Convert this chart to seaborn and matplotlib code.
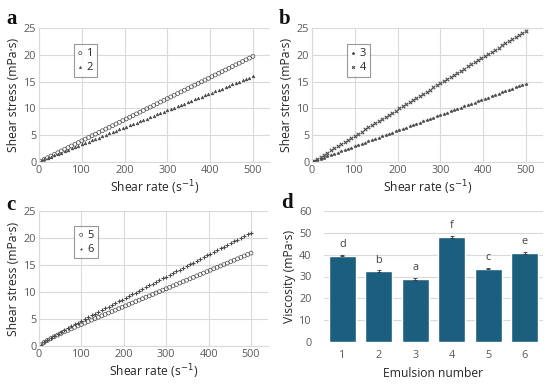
"""Flow curves of six emulsions (a-c) and their viscosity (d)."""

import matplotlib

matplotlib.use("Agg")
import matplotlib.pyplot as plt
import pandas as pd
import seaborn as sns

# shear rate steps (s^-1), shared by all flow curves
SHEAR_RATE = [
    4, 12, 20, 28, 36, 44, 52, 60, 68, 76, 84, 92, 100, 108, 116, 124,
    132, 140, 148, 156, 164, 172, 180, 188, 196, 204, 212, 220, 228, 236,
    244, 252, 260, 268, 276, 284, 292, 300, 308, 316, 324, 332, 340, 348,
    356, 364, 372, 380, 388, 396, 404, 412, 420, 428, 436, 444, 452, 460,
    468, 476, 484, 492, 500,
]

STRESS_1 = [
    0.16, 0.47, 0.79, 1.10, 1.42, 1.73, 2.05, 2.36, 2.68, 2.99, 3.31, 3.62,
    3.94, 4.26, 4.57, 4.89, 5.20, 5.52, 5.83, 6.15, 6.46, 6.78, 7.09, 7.41,
    7.72, 8.04, 8.35, 8.67, 8.98, 9.30, 9.61, 9.93, 10.24, 10.56, 10.87,
    11.19, 11.51, 11.82, 12.14, 12.45, 12.77, 13.08, 13.40, 13.71, 14.03,
    14.34, 14.66, 14.97, 15.29, 15.60, 15.92, 16.23, 16.55, 16.86, 17.18,
    17.49, 17.81, 18.13, 18.44, 18.76, 19.07, 19.39, 19.70,
]
STRESS_2 = [
    0.23, 0.48, 0.74, 0.99, 1.24, 1.50, 1.75, 2.01, 2.26, 2.52, 2.77, 3.03,
    3.28, 3.53, 3.79, 4.04, 4.30, 4.55, 4.81, 5.06, 5.32, 5.57, 5.82, 6.08,
    6.33, 6.59, 6.84, 7.10, 7.35, 7.60, 7.86, 8.11, 8.37, 8.62, 8.88, 9.13,
    9.39, 9.64, 9.89, 10.15, 10.40, 10.66, 10.91, 11.17, 11.42, 11.68,
    11.93, 12.18, 12.44, 12.69, 12.95, 13.20, 13.46, 13.71, 13.96, 14.22,
    14.47, 14.73, 14.98, 15.24, 15.49, 15.75, 16.00,
]
STRESS_3 = [
    0.12, 0.35, 0.58, 0.82, 1.05, 1.29, 1.52, 1.75, 1.99, 2.22, 2.45, 2.69,
    2.92, 3.15, 3.39, 3.62, 3.85, 4.09, 4.32, 4.56, 4.79, 5.02, 5.26, 5.49,
    5.72, 5.96, 6.19, 6.42, 6.66, 6.89, 7.13, 7.36, 7.59, 7.83, 8.06, 8.29,
    8.53, 8.76, 8.99, 9.23, 9.46, 9.69, 9.93, 10.16, 10.40, 10.63, 10.86,
    11.10, 11.33, 11.56, 11.80, 12.03, 12.26, 12.50, 12.73, 12.97, 13.20,
    13.43, 13.67, 13.90, 14.13, 14.37, 14.60,
]
STRESS_4 = [
    0.20, 0.59, 0.98, 1.37, 1.76, 2.16, 2.55, 2.94, 3.33, 3.72, 4.12, 4.51,
    4.90, 5.29, 5.68, 6.08, 6.47, 6.86, 7.25, 7.64, 8.04, 8.43, 8.82, 9.21,
    9.60, 10.00, 10.39, 10.78, 11.17, 11.56, 11.96, 12.35, 12.74, 13.13,
    13.52, 13.92, 14.31, 14.70, 15.09, 15.48, 15.88, 16.27, 16.66, 17.05,
    17.44, 17.84, 18.23, 18.62, 19.01, 19.40, 19.80, 20.19, 20.58, 20.97,
    21.36, 21.76, 22.15, 22.54, 22.93, 23.32, 23.72, 24.11, 24.50,
]
STRESS_5 = [
    0.23, 0.66, 1.05, 1.39, 1.72, 2.03, 2.33, 2.62, 2.90, 3.17, 3.45, 3.72,
    3.99, 4.25, 4.53, 4.79, 5.06, 5.32, 5.58, 5.85, 6.11, 6.38, 6.64, 6.90,
    7.17, 7.43, 7.70, 7.96, 8.22, 8.49, 8.75, 9.02, 9.28, 9.54, 9.81, 10.07,
    10.34, 10.60, 10.86, 11.13, 11.39, 11.66, 11.92, 12.18, 12.45, 12.71,
    12.98, 13.24, 13.50, 13.77, 14.03, 14.30, 14.56, 14.82, 15.09, 15.35,
    15.62, 15.88, 16.14, 16.41, 16.67, 16.94, 17.20,
]
STRESS_6 = [
    0.25, 0.72, 1.15, 1.55, 1.93, 2.29, 2.65, 3.00, 3.34, 3.67, 4.01, 4.34,
    4.67, 5.01, 5.33, 5.66, 5.99, 6.31, 6.64, 6.96, 7.29, 7.62, 7.94, 8.27,
    8.60, 8.92, 9.25, 9.58, 9.90, 10.23, 10.56, 10.88, 11.21, 11.53, 11.86,
    12.19, 12.51, 12.84, 13.17, 13.49, 13.82, 14.15, 14.47, 14.80, 15.12,
    15.45, 15.78, 16.10, 16.43, 16.76, 17.08, 17.41, 17.74, 18.06, 18.39,
    18.72, 19.04, 19.37, 19.69, 20.02, 20.35, 20.67, 21.00,
]

EMULSIONS = ["1", "2", "3", "4", "5", "6"]
VISCOSITY = [39.6, 32.5, 28.9, 48.1, 33.6, 40.9]
VISCOSITY_ERR = [0.3, 0.3, 0.4, 0.4, 0.3, 0.5]
GROUP_LETTERS = ["d", "b", "a", "f", "c", "e"]

GRID = "#d9d9d9"
TICK_COLOR = "#595959"
MARK_COLOR = "#4a4a4a"
BAR_COLOR = "#1b5e7e"

sns.set_theme(style="white")
plt.rcParams["font.family"] = ["Open Sans", "DejaVu Sans"]

W, H = 550, 386


def px_axes(fig, left, right, top, bottom):
    """Add axes from pixel box (y measured from the top)."""
    return fig.add_axes([left / W, 1 - bottom / H, (right - left) / W, (bottom - top) / H])


def style_flow_axes(ax):
    ax.set_xlim(0, 540)
    ax.set_ylim(0, 25)
    ax.set_xticks([0, 100, 200, 300, 400, 500])
    ax.set_yticks([0, 5, 10, 15, 20, 25])
    ax.grid(True, color=GRID, linewidth=0.8)
    ax.set_axisbelow(True)
    for side in ["top", "right"]:
        ax.spines[side].set_visible(False)
    for side in ["left", "bottom"]:
        ax.spines[side].set_color(GRID)
        ax.spines[side].set_linewidth(0.8)
    ax.tick_params(length=0, pad=2, labelsize=7.8, colors=TICK_COLOR)
    ax.set_xlabel("Shear rate (s$^{-1}$)", fontsize=8.7, color="#262626", labelpad=2)
    ax.set_ylabel("Shear stress (mPa·s)", fontsize=8.7, color="#262626", labelpad=3)


def flow_panel(ax, series, legend_xy):
    for label, values, marker, size, open_face, lw in series:
        sns.scatterplot(
            x=SHEAR_RATE,
            y=values,
            marker=marker,
            s=size,
            facecolor="none" if open_face else MARK_COLOR,
            edgecolor=MARK_COLOR,
            linewidth=lw,
            label=label,
            ax=ax,
        )
    style_flow_axes(ax)
    leg = ax.legend(
        loc="upper left",
        bbox_to_anchor=legend_xy,
        borderaxespad=0,
        fontsize=8,
        handlelength=0.5,
        handletextpad=0.3,
        borderpad=0.35,
        labelspacing=0.25,
        fancybox=False,
        markerscale=0.8,
    )
    leg.get_frame().set_edgecolor("#7f7f7f")
    leg.get_frame().set_linewidth(0.8)


fig = plt.figure(figsize=(W / 100, H / 100), dpi=100)

ax_a = px_axes(fig, 39, 270, 28, 162)
flow_panel(
    ax_a,
    [("1", STRESS_1, "o", 8, True, 0.5), ("2", STRESS_2, "^", 3.5, False, 0.5)],
    (0.15, 0.88),
)

ax_b = px_axes(fig, 312, 543, 28, 162)
flow_panel(
    ax_b,
    [("3", STRESS_3, "*", 5, False, 0.5), ("4", STRESS_4, "x", 6, False, 0.8)],
    (0.15, 0.88),
)

ax_c = px_axes(fig, 39, 268, 211, 346)
flow_panel(
    ax_c,
    [("5", STRESS_5, "o", 8, True, 0.5), ("6", STRESS_6, "+", 6, False, 0.8)],
    (0.155, 0.89),
)

# panel d: viscosity bars
ax_d = px_axes(fig, 324, 543, 211, 342)
visc = pd.DataFrame({"emulsion": EMULSIONS, "viscosity": VISCOSITY})
sns.barplot(data=visc, x="emulsion", y="viscosity", color=BAR_COLOR,
            width=0.75, saturation=1, errorbar=None, ax=ax_d)
ax_d.errorbar(range(len(EMULSIONS)), VISCOSITY, yerr=VISCOSITY_ERR, fmt="none",
              ecolor="#333333", elinewidth=0.6, capsize=1.2, capthick=0.6)
for i, (v, e, letter) in enumerate(zip(VISCOSITY, VISCOSITY_ERR, GROUP_LETTERS)):
    ax_d.text(i, v + e + 2.2, letter, ha="center", va="bottom",
              fontsize=7.8, color="#404040")
ax_d.set_xlim(-0.5, 5.5)
ax_d.set_ylim(0, 60)
ax_d.set_yticks([0, 10, 20, 30, 40, 50, 60])
ax_d.yaxis.grid(True, color=GRID, linewidth=0.8)
ax_d.set_axisbelow(True)
sns.despine(ax=ax_d, left=True, bottom=True)
ax_d.tick_params(length=0, pad=6, labelsize=7.8, colors=TICK_COLOR)
ax_d.tick_params(axis="y", pad=9)
ax_d.set_xlabel("Emulsion number", fontsize=8.7, color="#262626", labelpad=4)
ax_d.set_ylabel("Viscosity (mPa·s)", fontsize=8.7, color="#262626", labelpad=2)

# panel letters
letter_kw = dict(fontsize=15, fontweight="bold", family=["Liberation Serif", "DejaVu Serif"],
                 color="#111111", va="baseline", ha="left")
fig.text(6 / W, 1 - 24 / H, "a", **letter_kw)
fig.text(279 / W, 1 - 24 / H, "b", **letter_kw)
fig.text(6 / W, 1 - 210 / H, "c", **letter_kw)
fig.text(281 / W, 1 - 208 / H, "d", **letter_kw)

fig.savefig("out.png", dpi=100, facecolor="white")
